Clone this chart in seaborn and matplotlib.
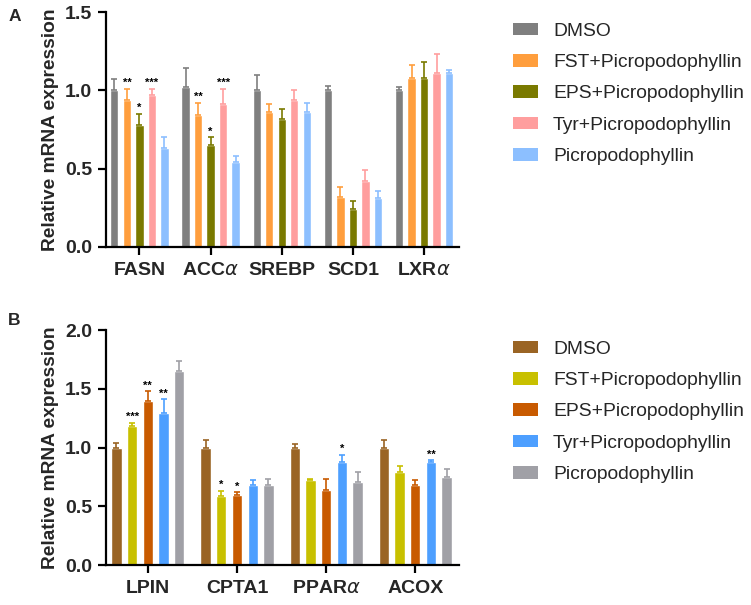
import numpy as np
import pandas as pd
import matplotlib
matplotlib.use("Agg")
import matplotlib.pyplot as plt
import seaborn as sns
from matplotlib.patches import Patch

# ---------------- data ----------------
groups = ["DMSO", "FST+Picropodophyllin", "EPS+Picropodophyllin",
          "Tyr+Picropodophyllin", "Picropodophyllin"]

genes_a = ["FASN", "ACC$\\alpha$", "SREBP", "SCD1", "LXR$\\alpha$"]
mean_a = {
    "DMSO":                 [1.00, 1.02, 1.00, 1.00, 1.00],
    "FST+Picropodophyllin": [0.94, 0.84, 0.86, 0.32, 1.08],
    "EPS+Picropodophyllin": [0.78, 0.65, 0.82, 0.24, 1.08],
    "Tyr+Picropodophyllin": [0.97, 0.91, 0.94, 0.42, 1.11],
    "Picropodophyllin":     [0.63, 0.54, 0.86, 0.31, 1.11],
}
err_a = {
    "DMSO":                 [0.07, 0.12, 0.10, 0.03, 0.02],
    "FST+Picropodophyllin": [0.07, 0.08, 0.05, 0.06, 0.08],
    "EPS+Picropodophyllin": [0.07, 0.05, 0.06, 0.05, 0.10],
    "Tyr+Picropodophyllin": [0.04, 0.10, 0.06, 0.07, 0.12],
    "Picropodophyllin":     [0.07, 0.04, 0.06, 0.05, 0.02],
}
stars_a = {
    "FST+Picropodophyllin": ["**", "**", "", "", ""],
    "EPS+Picropodophyllin": ["*", "*", "", "", ""],
    "Tyr+Picropodophyllin": ["***", "***", "", "", ""],
}
colors_a = ["#7f7f7f", "#ff9e3d", "#7a7a00", "#ff9e9e", "#8cbfff"]

genes_b = ["LPIN", "CPTA1", "PPAR$\\alpha$", "ACOX"]
mean_b = {
    "DMSO":                 [1.00, 1.00, 1.00, 1.00],
    "FST+Picropodophyllin": [1.18, 0.59, 0.72, 0.79],
    "EPS+Picropodophyllin": [1.40, 0.60, 0.64, 0.68],
    "Tyr+Picropodophyllin": [1.29, 0.68, 0.88, 0.88],
    "Picropodophyllin":     [1.65, 0.68, 0.71, 0.75],
}
err_b = {
    "DMSO":                 [0.04, 0.06, 0.03, 0.06],
    "FST+Picropodophyllin": [0.03, 0.04, 0.01, 0.05],
    "EPS+Picropodophyllin": [0.08, 0.02, 0.09, 0.04],
    "Tyr+Picropodophyllin": [0.12, 0.04, 0.06, 0.01],
    "Picropodophyllin":     [0.09, 0.05, 0.08, 0.07],
}
stars_b = {
    "FST+Picropodophyllin": ["***", "*", "", ""],
    "EPS+Picropodophyllin": ["**", "*", "", ""],
    "Tyr+Picropodophyllin": ["**", "", "*", "**"],
}
colors_b = ["#9a6424", "#c8c000", "#c85a00", "#4d9fff", "#a0a0a6"]

# ---------------- style ----------------
sns.set_theme(style="ticks")
plt.rcParams["font.family"] = ["Liberation Sans", "DejaVu Sans"]
plt.rcParams["mathtext.fontset"] = "dejavusans"

fig = plt.figure(figsize=(7.51, 6.05), dpi=100)
ax_a = fig.add_axes([0.1411, 0.592, 0.470, 0.388])
ax_b = fig.add_axes([0.1411, 0.0661, 0.470, 0.3884])


def panel(ax, genes, means, errs, stars, colors, ymax, yticks, legend_top):
    rows = []
    for g in groups:
        for gene, m in zip(genes, means[g]):
            rows.append({"gene": gene, "group": g, "value": m})
    df = pd.DataFrame(rows)
    sns.barplot(data=df, x="gene", y="value", hue="group", order=genes,
                hue_order=groups, palette=colors, errorbar=None,
                width=0.88, gap=0.34, ax=ax, legend=False, saturation=1)
    for i, (g, cont) in enumerate(zip(groups, ax.containers)):
        xs = [p.get_x() + p.get_width() / 2 for p in cont]
        hs = [p.get_height() for p in cont]
        e = errs[g]
        ax.errorbar(xs, hs, yerr=[np.zeros(len(e)), e], fmt="none",
                    ecolor=colors[i], elinewidth=1.2, capsize=2.2,
                    capthick=1.2, zorder=1)
        if g in stars:
            for x, h, ee, s in zip(xs, hs, e, stars[g]):
                if s:
                    ax.annotate(s, (x, h + ee), xytext=(0, 0.5),
                                textcoords="offset points", ha="center",
                                va="bottom", fontsize=8, fontweight="bold",
                                color="black")
    ax.set_ylim(0, ymax)
    ax.set_yticks(yticks)
    ax.set_yticklabels([f"{t:.1f}" for t in yticks])
    n = len(genes)
    ax.set_xlim(-0.47, n - 1 + 0.49)
    ax.set_xlabel("")
    ax.set_ylabel("Relative mRNA expression", fontsize=13.8,
                  fontweight="bold", labelpad=4)
    sns.despine(ax=ax)
    for sp in ("left", "bottom"):
        ax.spines[sp].set_linewidth(1.6)
        ax.spines[sp].set_color("black")
    ax.tick_params(axis="both", width=1.6, length=6, color="black",
                   labelsize=14, pad=4)
    ax.tick_params(axis="x", pad=5)
    for lab in ax.get_xticklabels() + ax.get_yticklabels():
        lab.set_fontweight("bold")
    handles = [Patch(facecolor=c, edgecolor="none") for c in colors]
    fig.legend(handles, groups, loc="upper left",
               bbox_to_anchor=(0.683, legend_top), frameon=False,
               fontsize=13.9, handlelength=1.3, handleheight=0.62,
               handletextpad=0.77, labelspacing=0.74, borderaxespad=0,
               borderpad=0)


panel(ax_a, genes_a, mean_a, err_a, stars_a, colors_a, 1.5,
      [0.0, 0.5, 1.0, 1.5], 0.9625)
panel(ax_b, genes_b, mean_b, err_b, stars_b, colors_b, 2.0,
      [0.0, 0.5, 1.0, 1.5, 2.0], 0.4368)

fig.text(0.011, 0.966, "A", fontsize=12.5, fontweight="bold")
fig.text(0.011, 0.463, "B", fontsize=12.5, fontweight="bold")

fig.savefig("out.png", dpi=100, facecolor="white")
